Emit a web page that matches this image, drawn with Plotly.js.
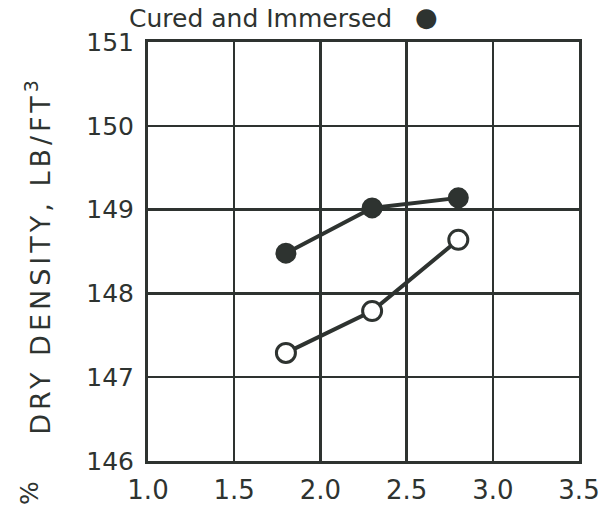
<!DOCTYPE html>
<html>
<head>
<meta charset="utf-8">
<script src="https://cdn.plot.ly/plotly-3.0.1.min.js"></script>
<style>html,body{margin:0;padding:0;background:#fff;}#chart{width:607px;height:507px;}</style>
</head>
<body>
<div id="chart"></div>
<script>
// Data
const cementPct = [1.8, 2.3, 2.8];
const curedImmersed = [148.48, 149.02, 149.14];
const otherSeries = [147.29, 147.79, 148.64];
const xTicks = [1.0, 1.5, 2.0, 2.5, 3.0, 3.5];
const xTickLabels = ['1.0', '1.5', '2.0', '2.5', '3.0', '3.5'];
const yTicks = [146, 147, 148, 149, 150, 151];
const yTickLabels = ['146', '147', '148', '149', '150', '151'];

const ink = '#2e3330';
const font = 'DejaVu Sans, sans-serif';

const traces = [
  {
    x: cementPct, y: curedImmersed, type: 'scatter', mode: 'lines+markers',
    line: {color: ink, width: 4},
    marker: {symbol: 'circle', size: 19, color: ink, line: {color: ink, width: 2}},
    showlegend: false, cliponaxis: false
  },
  {
    x: cementPct, y: otherSeries, type: 'scatter', mode: 'lines+markers',
    line: {color: ink, width: 4},
    marker: {symbol: 'circle', size: 19, color: '#ffffff', line: {color: ink, width: 3}},
    showlegend: false, cliponaxis: false
  }
];

const layout = {
  width: 607, height: 507,
  margin: {l: 148, r: 28, t: 42, b: 46},
  paper_bgcolor: '#ffffff', plot_bgcolor: '#ffffff',
  font: {family: font, color: ink},
  xaxis: {
    range: [1.0, 3.5], tickvals: xTicks, ticktext: xTickLabels,
    showgrid: true, gridcolor: ink, gridwidth: 2.5,
    showline: true, linecolor: ink, linewidth: 3, mirror: true,
    zeroline: false, ticks: '', ticklabelstandoff: 4,
    tickfont: {size: 26, family: font, color: ink}
  },
  yaxis: {
    range: [146, 151], tickvals: yTicks, ticktext: yTickLabels,
    showgrid: true, gridcolor: ink, gridwidth: 2.5,
    showline: true, linecolor: ink, linewidth: 3, mirror: true,
    zeroline: false, ticks: '', ticklabelstandoff: 6,
    tickfont: {size: 25, family: font, color: ink}
  },
  annotations: [
    {text: 'DRY DENSITY, LB/FT<sup>3</sup>', xref: 'paper', yref: 'paper',
     x: -0.255, y: 0.49, xanchor: 'center', yanchor: 'middle', textangle: -90,
     showarrow: false, font: {size: 27, family: font, color: ink}},
    {text: 'Cured and Immersed', xref: 'paper', yref: 'paper',
     x: -0.048, y: 1.055, xanchor: 'left', yanchor: 'middle',
     showarrow: false, font: {size: 25, family: font, color: ink}},
    {text: '●', xref: 'paper', yref: 'paper',
     x: 0.647, y: 1.06, xanchor: 'center', yanchor: 'middle',
     showarrow: false, font: {size: 26, family: font, color: ink}},
    {text: '%', xref: 'paper', yref: 'paper',
     x: -0.275, y: -0.075, xanchor: 'center', yanchor: 'middle', textangle: -90,
     showarrow: false, font: {size: 25, family: font, color: ink}}
  ]
};

Plotly.newPlot('chart', traces, layout, {displayModeBar: false, staticPlot: true}).then(function () {
  const t = document.querySelector('.annotation[data-index="0"] text');
  if (t) t.style.letterSpacing = '4px';
});
</script>
</body>
</html>
